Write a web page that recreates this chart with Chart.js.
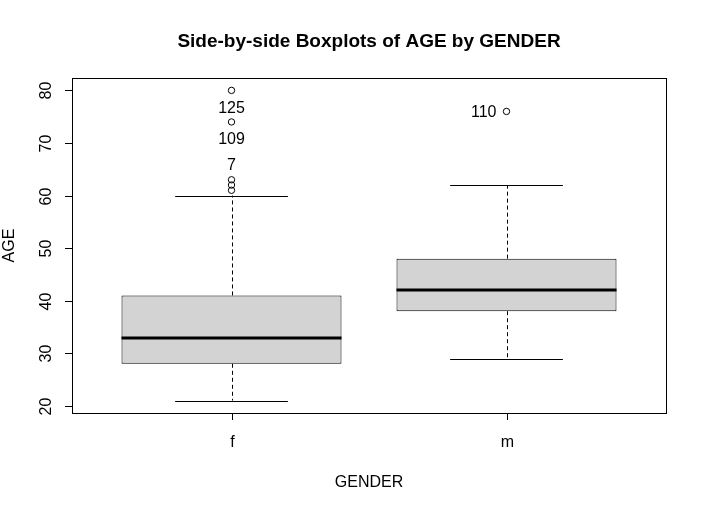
<!DOCTYPE html>
<html>
<head>
<meta charset="utf-8">
<script src="https://cdn.jsdelivr.net/npm/chart.js@4"></script>
<style>
  html, body { margin: 0; padding: 0; background: #fff; }
  #wrap { width: 704px; height: 507px; }
</style>
</head>
<body>
<div id="wrap"><canvas id="boxChart" width="704" height="507"></canvas></div>
<script>
// Box statistics per gender
const groups = ['f', 'm'];
const lowerWhisker = [21, 29];
const q1 = [28, 38];
const median = [33, 42];
const q3 = [41, 48];
const upperWhisker = [60, 62];

// Outliers: group index (1 = f, 2 = m) and age
const outlierGroup = [1, 1, 1, 1, 1, 2];
const outlierAge = [61, 62, 63, 74, 80, 76];

// Case labels placed next to some outliers
const labelText = ['125', '109', '7', '110'];
const labelGroup = [1, 1, 1, 2];
const labelAge = [80, 74, 63, 76];
const labelSide = ['below', 'below', 'above', 'left'];

const yTicks = [20, 30, 40, 50, 60, 70, 80];
const xTicks = [1, 2];

const FONT = '"Liberation Sans", Arial, Helvetica, sans-serif';

const boxData = groups.map((g, i) => ({ x: i + 1, y: [q1[i], q3[i]] }));
const outlierData = outlierAge.map((v, i) => ({ x: outlierGroup[i], y: v }));

// Draws the R-style parts: whiskers, medians, frame, axes and text
const rPlotPlugin = {
    id: 'rPlot',
    beforeDatasetsDraw(chart) {
        const ctx = chart.ctx;
        const x = chart.scales.x;
        const y = chart.scales.y;
        ctx.save();
        ctx.strokeStyle = '#000';
        ctx.lineWidth = 1;
        groups.forEach((g, i) => {
            const cx = Math.round(x.getPixelForValue(i + 1)) + 0.5;
            // dashed whiskers
            ctx.setLineDash([4, 3]);
            ctx.beginPath();
            ctx.moveTo(cx, y.getPixelForValue(q3[i]));
            ctx.lineTo(cx, y.getPixelForValue(upperWhisker[i]));
            ctx.moveTo(cx, y.getPixelForValue(q1[i]));
            ctx.lineTo(cx, y.getPixelForValue(lowerWhisker[i]));
            ctx.stroke();
            // staples
            ctx.setLineDash([]);
            const sl = x.getPixelForValue(i + 1 - 0.205);
            const sr = x.getPixelForValue(i + 1 + 0.205);
            [upperWhisker[i], lowerWhisker[i]].forEach(v => {
                const py = Math.round(y.getPixelForValue(v)) + 0.5;
                ctx.beginPath();
                ctx.moveTo(sl, py);
                ctx.lineTo(sr, py);
                ctx.stroke();
            });
        });
        ctx.restore();
    },
    afterDatasetsDraw(chart) {
        const ctx = chart.ctx;
        const x = chart.scales.x;
        const y = chart.scales.y;
        const area = chart.chartArea;
        ctx.save();
        ctx.strokeStyle = '#000';
        ctx.fillStyle = '#000';

        // medians
        ctx.lineWidth = 3;
        groups.forEach((g, i) => {
            const py = Math.round(y.getPixelForValue(median[i]));
            ctx.beginPath();
            ctx.moveTo(x.getPixelForValue(i + 1 - 0.4), py);
            ctx.lineTo(x.getPixelForValue(i + 1 + 0.4), py);
            ctx.stroke();
        });

        // plot frame
        ctx.lineWidth = 1;
        ctx.strokeRect(Math.round(area.left) + 0.5, Math.round(area.top) + 0.5,
            Math.round(area.right - area.left), Math.round(area.bottom - area.top));

        // y axis ticks and labels
        ctx.font = '16px ' + FONT;
        y.ticks.forEach(t => {
            const py = Math.round(y.getPixelForValue(t.value)) + 0.5;
            ctx.beginPath();
            ctx.moveTo(area.left, py);
            ctx.lineTo(area.left - 7, py);
            ctx.stroke();
            ctx.save();
            ctx.translate(area.left - 21, py);
            ctx.rotate(-Math.PI / 2);
            ctx.textAlign = 'center';
            ctx.textBaseline = 'alphabetic';
            ctx.fillText(String(t.value), 0, 0);
            ctx.restore();
        });

        // x axis ticks and labels
        x.ticks.forEach(t => {
            const px = Math.round(x.getPixelForValue(t.value)) + 0.5;
            ctx.beginPath();
            ctx.moveTo(px, area.bottom);
            ctx.lineTo(px, area.bottom + 7);
            ctx.stroke();
            ctx.textAlign = 'center';
            ctx.textBaseline = 'alphabetic';
            ctx.fillText(groups[t.value - 1], px, area.bottom + 34);
        });

        // axis titles
        const midX = (area.left + area.right) / 2;
        const midY = (area.top + area.bottom) / 2;
        ctx.textAlign = 'center';
        ctx.fillText('GENDER', midX, area.bottom + 74);
        ctx.save();
        ctx.translate(14, midY);
        ctx.rotate(-Math.PI / 2);
        ctx.fillText('AGE', 0, 0);
        ctx.restore();

        // outlier case labels
        ctx.textBaseline = 'middle';
        labelText.forEach((txt, i) => {
            const px = x.getPixelForValue(labelGroup[i]);
            const py = y.getPixelForValue(labelAge[i]);
            if (labelSide[i] === 'below') {
                ctx.textAlign = 'center';
                ctx.fillText(txt, px, py + 18);
            } else if (labelSide[i] === 'above') {
                ctx.textAlign = 'center';
                ctx.fillText(txt, px, py - 14);
            } else {
                ctx.textAlign = 'right';
                ctx.fillText(txt, px - 10, py + 1);
            }
        });

        // main title
        ctx.font = 'bold 19px ' + FONT;
        ctx.textAlign = 'center';
        ctx.textBaseline = 'alphabetic';
        ctx.fillText('Side-by-side Boxplots of AGE by GENDER', midX, 47);
        ctx.restore();
    }
};

new Chart(document.getElementById('boxChart').getContext('2d'), {
    type: 'bar',
    data: {
        datasets: [
            {
                label: 'AGE',
                data: boxData,
                backgroundColor: '#d3d3d3',
                borderColor: '#000',
                borderWidth: 1,
                borderSkipped: false,
                categoryPercentage: 1,
                barPercentage: 0.8
            },
            {
                type: 'scatter',
                label: 'Outliers',
                data: outlierData,
                pointStyle: 'circle',
                pointRadius: 3.2,
                pointBorderWidth: 1,
                pointBackgroundColor: 'rgba(0,0,0,0)',
                pointBorderColor: '#000'
            }
        ]
    },
    options: {
        responsive: false,
        animation: false,
        events: [],
        layout: { padding: { left: 72, right: 38, top: 78, bottom: 94 } },
        scales: {
            x: {
                type: 'linear',
                min: 0.42,
                max: 2.58,
                offset: false,
                display: false,
                afterBuildTicks: s => { s.ticks = xTicks.map(v => ({ value: v })); }
            },
            y: {
                type: 'linear',
                min: 18.64,
                max: 82.36,
                display: false,
                afterBuildTicks: s => { s.ticks = yTicks.map(v => ({ value: v })); }
            }
        },
        plugins: {
            legend: { display: false },
            tooltip: { enabled: false },
            title: { display: false }
        }
    },
    plugins: [rPlotPlugin]
});
</script>
</body>
</html>
